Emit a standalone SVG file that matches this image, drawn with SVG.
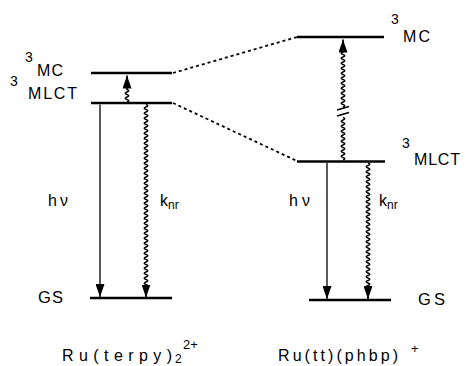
<svg xmlns="http://www.w3.org/2000/svg" width="465" height="366" viewBox="0 0 465 366">
<style>
text{font-family:"Liberation Sans",Arial,sans-serif;fill:#000}
.lvl{stroke:#000;stroke-width:2.5;fill:none}
.dot{stroke:#000;stroke-width:1.8;stroke-dasharray:3 3;fill:none}
.arr{stroke:#000;stroke-width:1.3;fill:none;marker-end:url(#ah)}
.wav{stroke:#000;stroke-width:1.6;fill:none}
.wa{marker-end:url(#ah)}
.lb{font-size:16px}
.sup{font-size:14px}
</style>
<defs>
<marker id="ah" markerUnits="userSpaceOnUse" markerWidth="14" markerHeight="9" refX="13" refY="4.5" orient="auto">
<path d="M0 0 L13 4.5 L0 9 z" fill="#000"/>
</marker>
</defs>
<rect width="465" height="366" fill="#fff"/>
<g id="terpy-3MC">
<line class="lvl" x1="91" y1="73" x2="172" y2="73"/>
<text class="sup" x="25" y="62">3</text>
<text class="lb" x="37" y="76" textLength="26" lengthAdjust="spacing">MC</text>
</g>
<g id="terpy-3MLCT">
<line class="lvl" x1="91" y1="103" x2="172" y2="103"/>
<text class="sup" x="10" y="86">3</text>
<text class="lb" x="28" y="99" textLength="49" lengthAdjust="spacing">MLCT</text>
</g>
<g id="terpy-GS">
<line class="lvl" x1="90" y1="298" x2="172" y2="298"/>
<text x="38" y="303" font-size="16.5" textLength="25" lengthAdjust="spacing">GS</text>
</g>
<g id="tt-3MC">
<line class="lvl" x1="297" y1="37" x2="384" y2="37"/>
<text class="sup" x="391" y="24">3</text>
<text class="lb" x="403" y="42" textLength="27" lengthAdjust="spacing">MC</text>
</g>
<g id="tt-3MLCT">
<line class="lvl" x1="297" y1="161.5" x2="385" y2="161.5"/>
<text class="sup" x="402" y="148">3</text>
<text class="lb" x="414" y="165" textLength="46" lengthAdjust="spacing">MLCT</text>
</g>
<g id="tt-GS">
<line class="lvl" x1="309" y1="300" x2="391" y2="300"/>
<text x="418" y="305" font-size="16.5" textLength="27" lengthAdjust="spacing">GS</text>
</g>
<g id="title-terpy">
<text class="lb" x="62" y="361" textLength="110" lengthAdjust="spacing">Ru(terpy)</text>
<text x="175" y="363" font-size="12">2</text>
<text x="183" y="349" font-size="13">2+</text>
</g>
<g id="title-tt">
<text class="lb" x="278" y="361" textLength="120" lengthAdjust="spacing">Ru(tt)(phbp)</text>
<text x="411" y="353" font-size="13">+</text>
</g>
<g id="connectors">
<line class="dot" x1="173" y1="73" x2="297" y2="37"/>
<line class="dot" x1="173" y1="103" x2="297" y2="161"/>
<line class="arr" x1="100" y1="104.5" x2="100" y2="297"/>
<line class="arr" x1="327" y1="163" x2="327" y2="299"/>
<path class="wav wa" d="M146 104.5q3.5 1.25 0 2.5t0 2.5t0 2.5t0 2.5t0 2.5t0 2.5t0 2.5t0 2.5t0 2.5t0 2.5t0 2.5t0 2.5t0 2.5t0 2.5t0 2.5t0 2.5t0 2.5t0 2.5t0 2.5t0 2.5t0 2.5t0 2.5t0 2.5t0 2.5t0 2.5t0 2.5t0 2.5t0 2.5t0 2.5t0 2.5t0 2.5t0 2.5t0 2.5t0 2.5t0 2.5t0 2.5t0 2.5t0 2.5t0 2.5t0 2.5t0 2.5t0 2.5t0 2.5t0 2.5t0 2.5t0 2.5t0 2.5t0 2.5t0 2.5t0 2.5t0 2.5t0 2.5t0 2.5t0 2.5t0 2.5t0 2.5t0 2.5t0 2.5t0 2.5t0 2.5t0 2.5t0 2.5t0 2.5t0 2.5t0 2.5t0 2.5t0 2.5t0 2.5t0 2.5t0 2.5t0 2.5t0 2.5t0 2.5v10.5"/>
<path class="wav wa" d="M127 102q3.5 -1.25 0 -2.5t0-2.5t0-2.5t0-2.5t0-2.5v-14"/>
<path class="wav wa" d="M368 163q3.5 1.25 0 2.5t0 2.5t0 2.5t0 2.5t0 2.5t0 2.5t0 2.5t0 2.5t0 2.5t0 2.5t0 2.5t0 2.5t0 2.5t0 2.5t0 2.5t0 2.5t0 2.5t0 2.5t0 2.5t0 2.5t0 2.5t0 2.5t0 2.5t0 2.5t0 2.5t0 2.5t0 2.5t0 2.5t0 2.5t0 2.5t0 2.5t0 2.5t0 2.5t0 2.5t0 2.5t0 2.5t0 2.5t0 2.5t0 2.5t0 2.5t0 2.5t0 2.5t0 2.5t0 2.5t0 2.5t0 2.5t0 2.5t0 2.5t0 2.5t0 2.5v11"/>
<path class="wav" d="M343 160q3.5 -1.25 0 -2.5t0-2.5t0-2.5t0-2.5t0-2.5t0-2.5t0-2.5t0-2.5t0-2.5t0-2.5t0-2.5t0-2.5t0-2.5t0-2.5t0-2.5t0-2.5t0-2.5"/>
<path class="wav wa" d="M343 107q3.5 -1.25 0 -2.5t0-2.5t0-2.5t0-2.5t0-2.5t0-2.5t0-2.5t0-2.5t0-2.5t0-2.5t0-2.5t0-2.5t0-2.5t0-2.5t0-2.5t0-2.5t0-2.5t0-2.5t0-2.5t0-2.5t0-2.5t0-2.5v-12.5"/>
<path class="wav" d="M337 110L349 106.5M337 116L349 112.5"/>
<text class="lb" x="48" y="206" textLength="20" lengthAdjust="spacing">hν</text>
<text class="lb" x="289" y="206" textLength="21" lengthAdjust="spacing">hν</text>
<text class="lb" x="160" y="206">k<tspan font-size="12" dy="3">nr</tspan></text>
<text class="lb" x="379" y="206">k<tspan font-size="12" dy="3">nr</tspan></text>
</g>
</svg>
